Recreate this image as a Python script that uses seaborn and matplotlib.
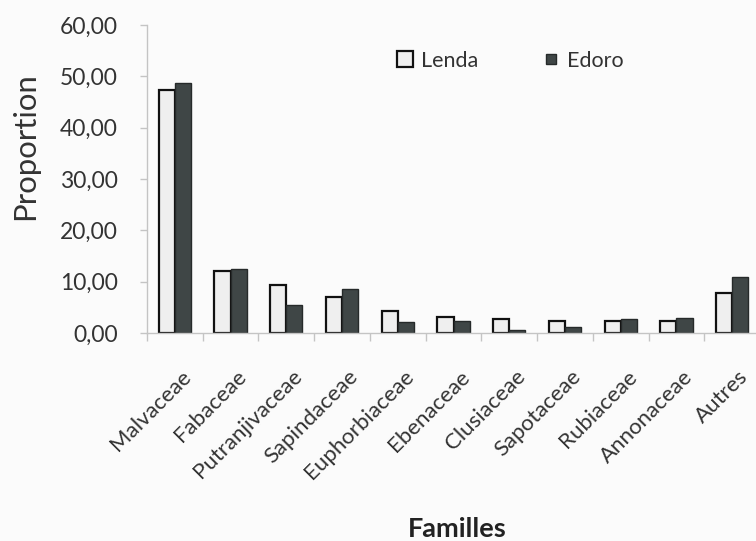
import matplotlib
matplotlib.use("Agg")
import matplotlib.pyplot as plt
import matplotlib.transforms as mtransforms
from matplotlib.ticker import FuncFormatter, FixedLocator
from matplotlib.lines import Line2D
import seaborn as sns
import pandas as pd
import numpy as np

familles = ["Malvaceae", "Fabaceae", "Putranjivaceae", "Sapindaceae", "Euphorbiaceae",
            "Ebenaceae", "Clusiaceae", "Sapotaceae", "Rubiaceae", "Annonaceae", "Autres"]
lenda = [47.4, 12.1, 9.4, 7.0, 4.2, 3.2, 2.8, 2.4, 2.4, 2.4, 7.8]
edoro = [48.7, 12.5, 5.5, 8.6, 2.2, 2.3, 0.6, 1.2, 2.7, 2.9, 10.9]
series = ["Lenda", "Edoro"]
y_ticks = [0, 10, 20, 30, 40, 50, 60]

df = pd.DataFrame({
    "Familles": familles * 2,
    "Proportion": lenda + edoro,
    "Site": [series[0]] * len(familles) + [series[1]] * len(familles),
})

sns.set_style("white")
plt.rcParams["font.family"] = ["Lato", "DejaVu Sans"]
text_color = "#333333"
bg = "#fbfbfb"

fig = plt.figure(figsize=(7.56, 5.41), dpi=100, facecolor=bg)
ax = fig.add_axes([147 / 756, 1 - 333 / 541, (760 - 147) / 756, 308 / 541])
ax.set_facecolor(bg)

face = {"Lenda": "#efefef", "Edoro": "#3f4646"}
sns.barplot(data=df, x="Familles", y="Proportion", hue="Site", hue_order=series,
            palette=face, width=0.58, gap=0, ax=ax, saturation=1, legend=False)

for p in ax.containers[0]:
    p.set_edgecolor("#111111")
    p.set_linewidth(1.6)
for p in ax.containers[1]:
    p.set_edgecolor("#262a2a")
    p.set_linewidth(1.0)

ax.set_ylim(0, 60)
ax.set_xlim(-0.5, len(familles) - 0.5)
ax.yaxis.set_major_locator(FixedLocator(y_ticks))
ax.yaxis.set_major_formatter(FuncFormatter(lambda v, _: f"{v:.2f}".replace(".", ",")))

for s in ["top", "right"]:
    ax.spines[s].set_visible(False)
for s in ["left", "bottom"]:
    ax.spines[s].set_color("#c4c4c4")
    ax.spines[s].set_linewidth(1.0)

ax.tick_params(axis="y", which="major", length=5, color="#c4c4c4", width=1,
               labelsize=16.5, labelcolor=text_color, pad=16, left=True)
ax.xaxis.set_minor_locator(FixedLocator(np.arange(len(familles) + 1) - 0.5))
ax.tick_params(axis="x", which="minor", length=6, color="#c4c4c4", width=1, bottom=True)
ax.tick_params(axis="x", which="major", length=0, labelsize=16, labelcolor=text_color, pad=24)

offset = mtransforms.ScaledTranslation(6 / 100, 0, fig.dpi_scale_trans)
for lab in ax.get_xticklabels():
    lab.set_rotation(45)
    lab.set_ha("right")
    lab.set_va("top")
    lab.set_rotation_mode("anchor")
    lab.set_transform(lab.get_transform() + offset)

ax.set_ylabel("")
ax.set_xlabel("")
fig.text(25 / 756, 1 - 146 / 541, "Proportion", fontsize=22.4, rotation=90,
         color=text_color, ha="center", va="center")
fig.text(457 / 756, 1 - 529 / 541, "Familles", fontsize=19.5, fontweight="bold",
         color="#222222", ha="center", va="center")

handles = [Line2D([], [], marker="s", linestyle="none", markersize=11,
                  markerfacecolor=face["Lenda"], markeredgecolor="#111111",
                  markeredgewidth=1.6, label="Lenda"),
           Line2D([], [], marker="s", linestyle="none", markersize=7,
                  markerfacecolor=face["Edoro"], markeredgecolor="#262a2a",
                  markeredgewidth=1.0, label="Edoro")]
leg = ax.legend(handles=handles, ncol=2, frameon=False, loc="center",
                bbox_to_anchor=(510 / 756, 1 - 61 / 541), bbox_transform=fig.transFigure,
                handlelength=0.8, handletextpad=0.35,
                columnspacing=3.0, fontsize=15.5)
for t in leg.get_texts():
    t.set_color(text_color)

fig.savefig("out.png", dpi=100, facecolor=fig.get_facecolor())
